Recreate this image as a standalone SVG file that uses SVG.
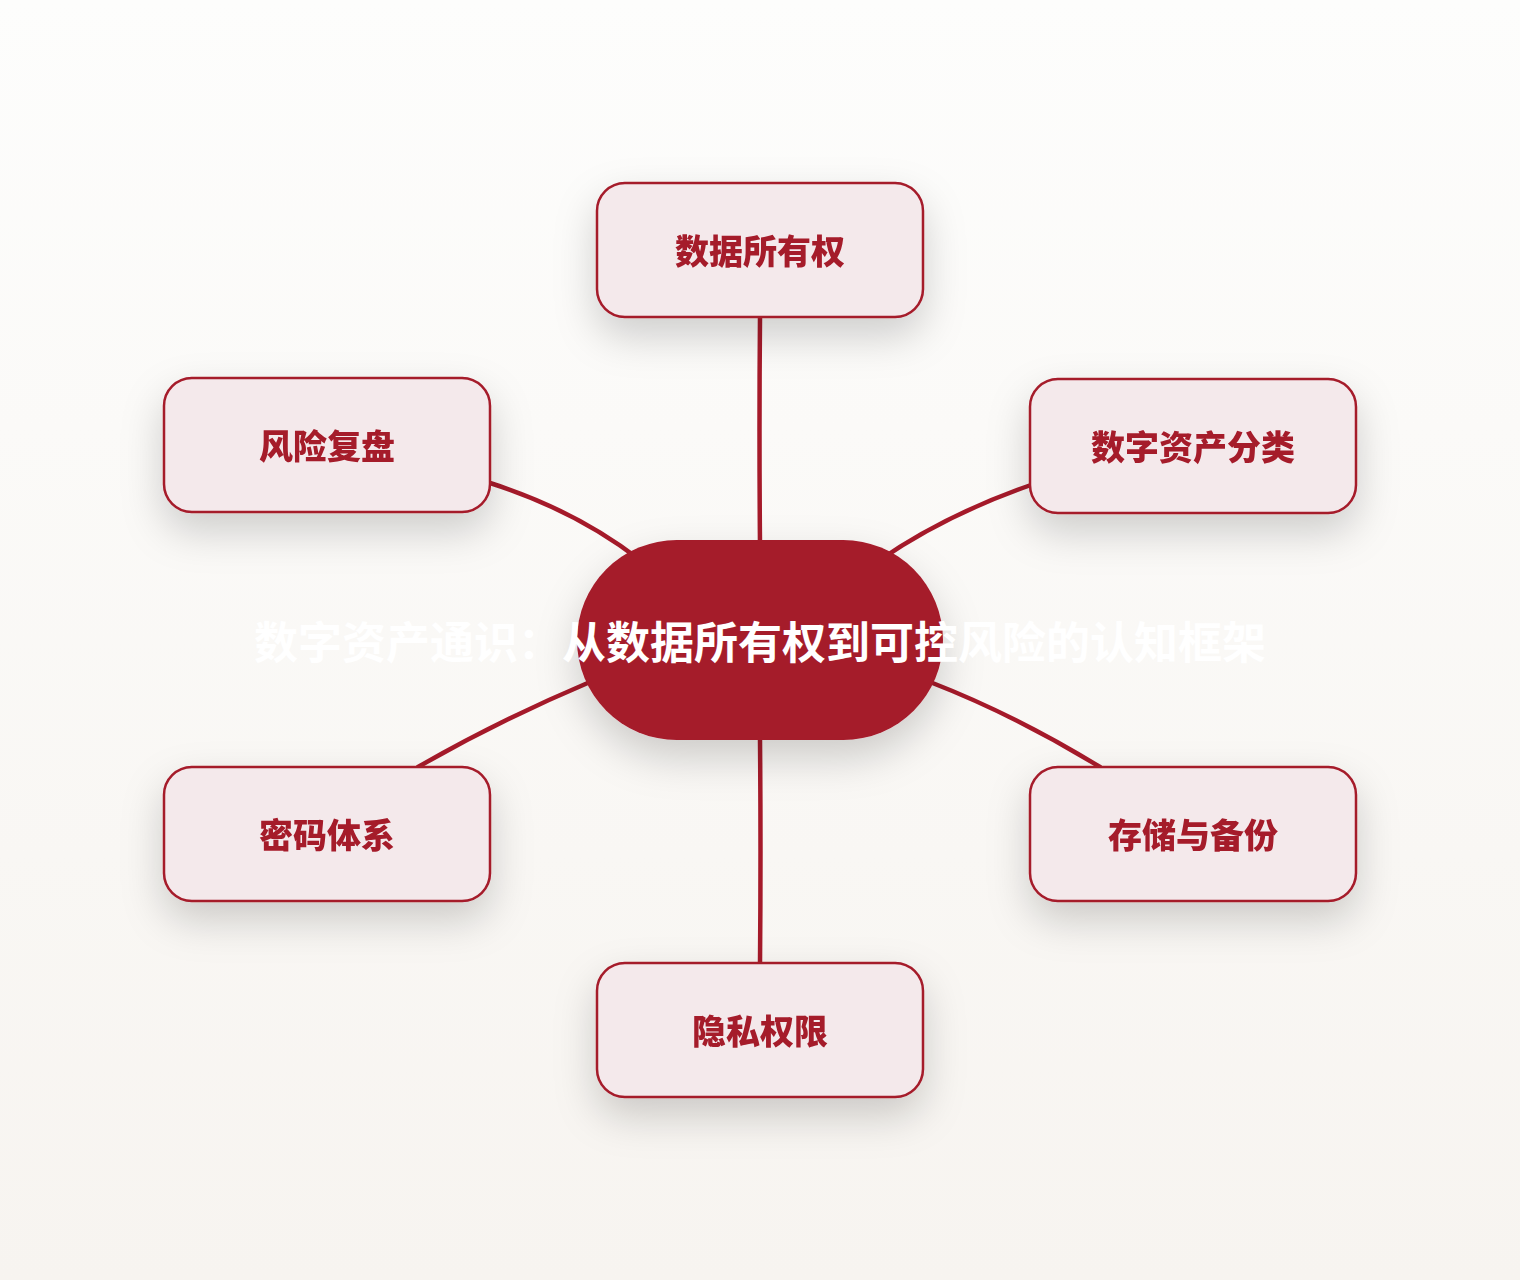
<svg xmlns="http://www.w3.org/2000/svg" width="1520" height="1280" viewBox="0 0 1520 1280">
  <defs>
    <linearGradient id="bg" x1="0" y1="0" x2="0" y2="1">
      <stop offset="0" stop-color="#fdfdfc"/>
      <stop offset="1" stop-color="#f7f4f0"/>
    </linearGradient>
    <filter id="shadow" x="-40%" y="-50%" width="180%" height="220%">
      <feDropShadow dx="0" dy="18" stdDeviation="20" flood-color="#000" flood-opacity="0.18"/>
    </filter>
    <style>
      .node rect { fill: #f4e9eb; stroke: #a51a2a; stroke-width: 2.5; }
      .node text { fill: #a51a2a; font-family: "Noto Sans CJK SC", "Liberation Sans", sans-serif; font-weight: 900; font-size: 34px; text-anchor: middle; }
      .conn path { fill: none; stroke: #a51a2a; stroke-width: 4.5; stroke-linecap: round; }
      .title { fill: #ffffff; font-family: "Noto Sans CJK SC", "Liberation Sans", sans-serif; font-weight: 700; font-size: 44px; text-anchor: middle; }
    </style>
  </defs>
  <rect x="0" y="0" width="1520" height="1280" fill="url(#bg)"/>

  <g id="connectors" class="conn">
    <path d="M760 317 Q759 430 760 545"/>
    <path d="M760 740 Q761 850 760 963"/>
    <path d="M490 483 Q575 510 640 560"/>
    <path d="M1031 485 Q945 515 880 560"/>
    <path d="M418 767 Q500 720 590 682"/>
    <path d="M1100 767 Q1015 715 930 682"/>
  </g>

  <g id="center" filter="url(#shadow)">
    <rect x="577" y="540" width="366" height="200" rx="100" ry="100" fill="#a51a2a"/>
  </g>
  <text class="title" x="760" y="659">数字资产通识：从数据所有权到可控风险的认知框架</text>

  <g id="node-top" class="node" filter="url(#shadow)">
    <rect x="597" y="183" width="326" height="134" rx="28"/>
    <text x="760" y="264">数据所有权</text>
  </g>
  <g id="node-upper-left" class="node" filter="url(#shadow)">
    <rect x="164" y="378" width="326" height="134" rx="28"/>
    <text x="327" y="459">风险复盘</text>
  </g>
  <g id="node-upper-right" class="node" filter="url(#shadow)">
    <rect x="1030" y="379" width="326" height="134" rx="28"/>
    <text x="1193" y="460">数字资产分类</text>
  </g>
  <g id="node-lower-left" class="node" filter="url(#shadow)">
    <rect x="164" y="767" width="326" height="134" rx="28"/>
    <text x="327" y="848">密码体系</text>
  </g>
  <g id="node-lower-right" class="node" filter="url(#shadow)">
    <rect x="1030" y="767" width="326" height="134" rx="28"/>
    <text x="1193" y="848">存储与备份</text>
  </g>
  <g id="node-bottom" class="node" filter="url(#shadow)">
    <rect x="597" y="963" width="326" height="134" rx="28"/>
    <text x="760" y="1044">隐私权限</text>
  </g>
</svg>
